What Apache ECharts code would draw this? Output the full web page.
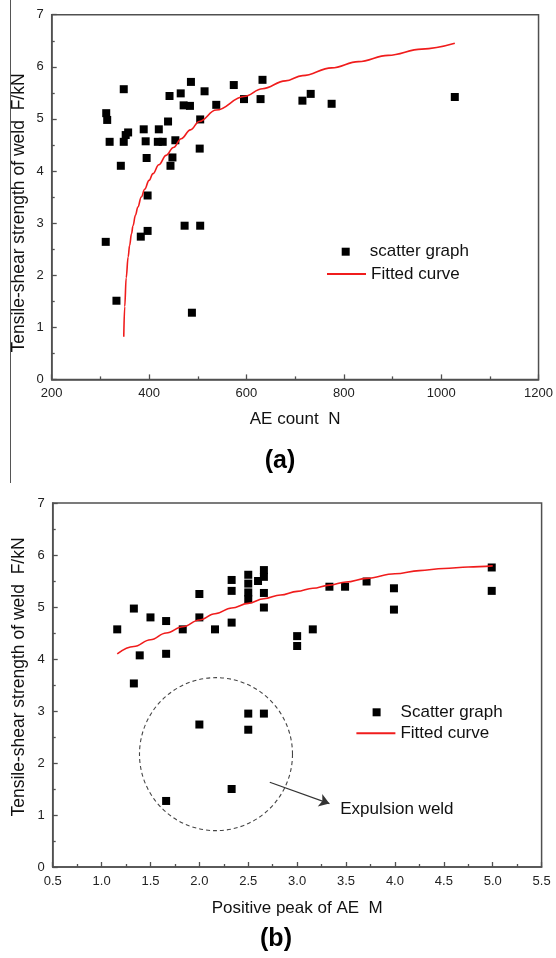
<!DOCTYPE html>
<html><head><meta charset="utf-8">
<script src="https://cdn.jsdelivr.net/npm/echarts@6/dist/echarts.min.js"></script>
<style>html,body{margin:0;padding:0;background:#fff}#c{width:556px;height:958px}</style>
</head><body><div id="c"></div>
<script>
// ---------- Chart (a): AE count vs strength ----------
const aCountX = [312,314,319,348,348,352,357,342,389,393,395,397,420,418,428,439,442,444,448,454,465,471,484,486,505,504,514,538,574,595,629,633,715,732,775,1028,311,333,383,397,473,505,488];
const aStrengthY = [5.11,4.98,4.56,5.57,4.56,4.69,4.74,4.10,4.80,4.57,4.25,3.53,4.80,4.56,4.56,4.95,5.44,4.10,4.26,4.59,5.49,5.26,5.25,5.71,4.99,4.43,5.53,5.27,5.65,5.38,5.38,5.75,5.35,5.48,5.29,5.42,2.64,1.51,2.74,2.85,2.95,2.95,1.28];
const aFitX = [348,350,353,357,360,364,367,372,377,384,391,400,408,420,435,450,466,485,503,538,595,633,680,715,775,830,891,960,1028];
const aFitY = [0.82,1.40,1.95,2.35,2.57,2.80,2.95,3.15,3.31,3.50,3.65,3.82,3.95,4.12,4.30,4.45,4.62,4.79,4.95,5.17,5.43,5.58,5.73,5.83,5.98,6.10,6.22,6.34,6.45];
const aXTicks = [200,400,600,800,1000,1200];
const aYTicks = [0,1,2,3,4,5,6,7];
// ---------- Chart (b): positive peak vs strength ----------
const bPeakX = [1.16,1.33,1.33,1.39,1.50,1.66,1.66,1.83,2.00,2.00,2.16,2.33,2.33,2.33,2.50,2.50,2.50,2.50,2.60,2.66,2.66,2.66,2.66,3.00,3.00,3.16,3.33,3.49,3.71,3.99,3.99,4.99,4.99,2.00,2.50,2.66,2.50,2.33,1.66];
const bStrengthY = [4.57,4.97,3.53,4.07,4.80,4.73,4.10,4.57,5.25,4.80,4.57,5.52,5.31,4.70,5.62,5.45,5.28,5.15,5.50,5.71,5.58,5.27,4.99,4.44,4.25,4.57,5.39,5.39,5.49,5.36,4.95,5.76,5.31,2.74,2.95,2.95,2.64,1.50,1.27];
const bFitX = [1.16,1.33,1.50,1.66,1.83,2.00,2.16,2.33,2.50,2.66,2.83,3.00,3.16,3.33,3.50,3.71,4.00,4.25,4.50,4.75,5.00];
const bFitY = [4.10,4.24,4.37,4.50,4.62,4.75,4.87,4.98,5.07,5.16,5.23,5.30,5.36,5.42,5.48,5.55,5.64,5.70,5.74,5.77,5.79];
const bXTicks = [0.5,1.0,1.5,2.0,2.5,3.0,3.5,4.0,4.5,5.0,5.5];
const bYTicks = [0,1,2,3,4,5,6,7];
// annotation (data coords)
const circleCenter = [2.17, 2.17];
const arrowFrom = [2.72, 1.63];
const arrowTo = [3.33, 1.22];
const expulsionAt = [3.44, 1.10];

const FONT = 'Liberation Sans, Arial, sans-serif';
const AXC = '#505050';
const RED = '#f01c1c';
const zip = (xs, ys) => xs.map((x, i) => [x, ys[i]]);

function mkX(ticks, gi, dec) {
  return {
    type: 'value', gridIndex: gi, min: ticks[0], max: ticks[ticks.length - 1],
    interval: ticks[1] - ticks[0],
    axisLine: { show: true, onZero: false, lineStyle: { color: AXC, width: 1.5 } },
    axisTick: { show: true, inside: true, length: 5, lineStyle: { color: AXC, width: 1.3 } },
    minorTick: { show: true, splitNumber: 2, length: 3, lineStyle: { color: AXC, width: 1.3 } },
    splitLine: { show: false },
    axisLabel: { margin: 8, fontSize: 13, fontFamily: FONT, color: '#222',
      formatter: v => dec ? v.toFixed(1) : String(v) }
  };
}
function mkY(ticks, gi) {
  return {
    type: 'value', gridIndex: gi, min: ticks[0], max: ticks[ticks.length - 1],
    interval: ticks[1] - ticks[0],
    axisLine: { show: true, onZero: false, lineStyle: { color: AXC, width: 1.5 } },
    axisTick: { show: true, inside: true, length: 5, lineStyle: { color: AXC, width: 1.3 } },
    minorTick: { show: true, splitNumber: 2, length: 3, lineStyle: { color: AXC, width: 1.3 } },
    splitLine: { show: false },
    axisLabel: { margin: 8, fontSize: 13, fontFamily: FONT, color: '#222' }
  };
}

const chart = echarts.init(document.getElementById('c'), null, { renderer: 'canvas' });
const legText = { fontSize: 17, fontFamily: FONT, color: '#111' };
function scatterLegend(name, cx, cy) {
  return { orient: 'vertical', padding: 0, left: cx - 4, top: cy - 9, itemWidth: 8, itemHeight: 8,
    icon: 'rect', itemStyle: { color: '#000', opacity: 1 },
    textStyle: Object.assign({ padding: [0, 0, 0, 15], lineHeight: 18 }, legText), data: [name] };
}
function lineLegend(name, x1, cy) {
  return { orient: 'vertical', padding: 0, left: x1, top: cy - 9, itemWidth: 39, itemHeight: 2,
    icon: 'rect', itemStyle: { color: RED, opacity: 1, borderWidth: 0 },
    textStyle: Object.assign({ lineHeight: 18, padding: [0, 0, 0, 0] }, legText), data: [name] };
}
chart.setOption({
  animation: false,
  backgroundColor: '#fff',
  grid: [
    { left: 51.7, right: 15.3, top: 14.7, bottom: 578.6, show: true, borderColor: AXC, borderWidth: 1.5 },
    { left: 52.7, right: 14.4, top: 503, bottom: 91, show: true, borderColor: AXC, borderWidth: 1.5 }
  ],
  xAxis: [
    Object.assign(mkX(aXTicks, 0, false), { name: 'AE count  N', nameLocation: 'middle', nameGap: 31,
      nameTextStyle: { fontSize: 17, fontFamily: FONT, color: '#111' } }),
    Object.assign(mkX(bXTicks, 1, true), { name: 'Positive peak of AE  M', nameLocation: 'middle', nameGap: 33,
      nameTextStyle: { fontSize: 17, fontFamily: FONT, color: '#111' } })
  ],
  yAxis: [mkY(aYTicks, 0), mkY(bYTicks, 1)],
  legend: [
    scatterLegend('scatter graph', 345.7, 251.7),
    lineLegend('Fitted curve', 327, 274),
    scatterLegend('Scatter graph', 376.6, 712.3),
    lineLegend('Fitted curve', 356.4, 733.3)
  ],
  series: [
    { name: 'Fitted curve', type: 'line', xAxisIndex: 0, yAxisIndex: 0, data: zip(aFitX, aFitY),
      showSymbol: false, symbol: 'none', smooth: 0.4, smoothMonotone: 'x',
      lineStyle: { color: RED, width: 1.6 }, itemStyle: { color: RED }, z: 3 },
    { name: 'scatter graph', type: 'scatter', xAxisIndex: 0, yAxisIndex: 0, data: zip(aCountX, aStrengthY),
      symbol: 'rect', symbolSize: 8, itemStyle: { color: '#000', opacity: 1 }, z: 2 },
    { name: 'Fitted curve', type: 'line', xAxisIndex: 1, yAxisIndex: 1, data: zip(bFitX, bFitY),
      showSymbol: false, symbol: 'none', smooth: 0.4, smoothMonotone: 'x',
      lineStyle: { color: RED, width: 1.6 }, itemStyle: { color: RED }, z: 3 },
    { name: 'Scatter graph', type: 'scatter', xAxisIndex: 1, yAxisIndex: 1, data: zip(bPeakX, bStrengthY),
      symbol: 'rect', symbolSize: 8, itemStyle: { color: '#000', opacity: 1 }, z: 2,
      markLine: { silent: true, symbol: ['none', 'arrow'], symbolSize: 10,
        lineStyle: { color: '#333', type: 'solid', width: 1.2, opacity: 1 }, label: { show: false },
        emphasis: { disabled: true },
        data: [[{ coord: arrowFrom }, { coord: arrowTo }]] } }
  ]
});

const cc = chart.convertToPixel({ xAxisIndex: 1, yAxisIndex: 1 }, circleCenter);
const ex = chart.convertToPixel({ xAxisIndex: 1, yAxisIndex: 1 }, expulsionAt);
const yName = 'Tensile-shear strength of weld  F/kN';
chart.setOption({
  graphic: [
    { type: 'line', shape: { x1: 10.5, y1: 0, x2: 10.5, y2: 483 }, style: { stroke: '#555', lineWidth: 1 } },
    { type: 'text', x: 19, y: 213, rotation: Math.PI / 2,
      style: { text: yName, align: 'center', verticalAlign: 'middle', fontSize: 17.5, fontFamily: FONT, fill: '#111' } },
    { type: 'text', x: 19, y: 677, rotation: Math.PI / 2,
      style: { text: yName, align: 'center', verticalAlign: 'middle', fontSize: 17.5, fontFamily: FONT, fill: '#111' } },
    { type: 'text', x: 280, y: 461,
      style: { text: '(a)', align: 'center', verticalAlign: 'middle', fontSize: 25, fontWeight: 'bold', fontFamily: FONT, fill: '#000' } },
    { type: 'text', x: 276, y: 939,
      style: { text: '(b)', align: 'center', verticalAlign: 'middle', fontSize: 25, fontWeight: 'bold', fontFamily: FONT, fill: '#000' } },
    { type: 'circle', shape: { cx: cc[0], cy: cc[1], r: 76.5 },
      style: { fill: 'none', stroke: '#444', lineWidth: 1.1, lineDash: [4, 3] }, z: 10 },
    { type: 'text', x: ex[0], y: ex[1],
      style: { text: 'Expulsion weld', align: 'left', verticalAlign: 'middle', fontSize: 17, fontFamily: FONT, fill: '#111' }, z: 10 }
  ]
});
</script>
</body></html>
